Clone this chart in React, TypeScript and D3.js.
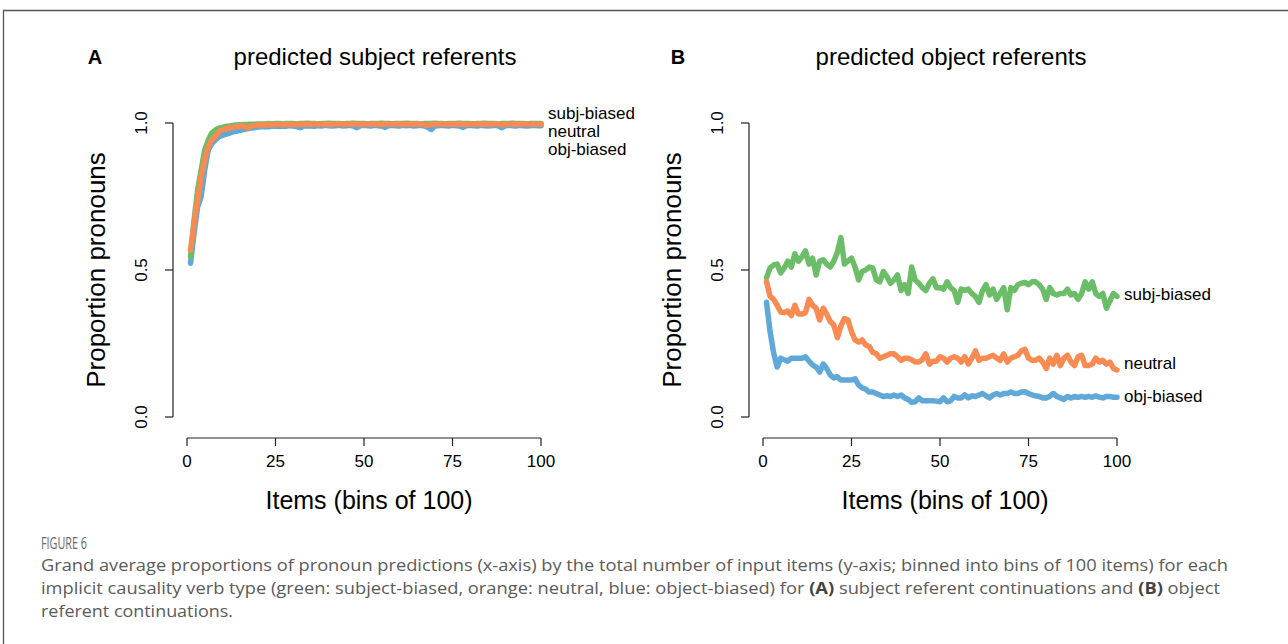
import React from "react";
import * as d3 from "d3";

const xTicks = [0, 25, 50, 75, 100];
const yTicks = [0, 0.5, 1.0];
const yTickLabels = ["0.0", "0.5", "1.0"];
const seriesNames = ["subj-biased", "neutral", "obj-biased"];
const colors = { subj: "#6cbd67", neutral: "#f98a52", obj: "#5fa8d8" };

// Panel A: predicted subject referents (bins 1..100)
const subjA = [
  0.545, 0.67, 0.772, 0.84, 0.908, 0.942, 0.966, 0.976, 0.982, 0.985,
  0.988, 0.99, 0.992, 0.993, 0.994, 0.995, 0.995, 0.996, 0.996, 0.997,
  0.997, 0.997, 0.998, 0.997, 0.998, 0.998, 0.997, 0.998, 0.998, 0.998,
  0.997, 0.998, 0.998, 0.999, 0.998, 0.998, 0.997, 0.998, 0.998, 0.999,
  0.998, 0.998, 0.998, 0.997, 0.998, 0.998, 0.999, 0.998, 0.998, 0.998,
  0.997, 0.998, 0.998, 0.998, 0.999, 0.998, 0.998, 0.997, 0.998, 0.998,
  0.998, 0.999, 0.998, 0.998, 0.998, 0.997, 0.998, 0.998, 0.998, 0.999,
  0.998, 0.998, 0.997, 0.998, 0.998, 0.998, 0.999, 0.998, 0.998, 0.998,
  0.997, 0.998, 0.998, 0.999, 0.998, 0.998, 0.998, 0.997, 0.998, 0.998,
  0.998, 0.999, 0.998, 0.998, 0.998, 0.997, 0.998, 0.998, 0.998, 0.998,
];
const neutralA = [
  0.568, 0.66, 0.738, 0.817, 0.874, 0.92, 0.942, 0.953, 0.97, 0.976,
  0.98, 0.985, 0.985, 0.987, 0.99, 0.99, 0.982, 0.99, 0.992, 0.993,
  0.994, 0.993, 0.995, 0.994, 0.996, 0.995, 0.994, 0.996, 0.995, 0.996,
  0.994, 0.996, 0.997, 0.995, 0.996, 0.997, 0.995, 0.996, 0.996, 0.997,
  0.995, 0.996, 0.997, 0.996, 0.995, 0.997, 0.996, 0.997, 0.996, 0.995,
  0.997, 0.996, 0.997, 0.996, 0.995, 0.997, 0.996, 0.997, 0.996, 0.997,
  0.996, 0.995, 0.997, 0.996, 0.997, 0.996, 0.995, 0.992, 0.996, 0.997,
  0.996, 0.997, 0.996, 0.995, 0.997, 0.996, 0.997, 0.996, 0.995, 0.997,
  0.996, 0.997, 0.996, 0.997, 0.996, 0.995, 0.997, 0.996, 0.993, 0.997,
  0.996, 0.997, 0.996, 0.995, 0.997, 0.996, 0.997, 0.996, 0.996, 0.996,
];
const objA = [
  0.523, 0.626, 0.715, 0.75, 0.84, 0.908, 0.93, 0.942, 0.953, 0.958,
  0.962, 0.965, 0.97, 0.972, 0.975, 0.978, 0.98, 0.983, 0.984, 0.986,
  0.987, 0.988, 0.987, 0.989, 0.99, 0.988, 0.99, 0.989, 0.991, 0.99,
  0.988, 0.984, 0.99, 0.991, 0.99, 0.989, 0.991, 0.99, 0.992, 0.991,
  0.99, 0.991, 0.992, 0.99, 0.991, 0.992, 0.99, 0.984, 0.991, 0.992,
  0.991, 0.99, 0.992, 0.991, 0.99, 0.985, 0.991, 0.992, 0.991, 0.99,
  0.992, 0.991, 0.992, 0.99, 0.991, 0.992, 0.99, 0.986, 0.978, 0.99,
  0.991, 0.992, 0.991, 0.99, 0.992, 0.991, 0.99, 0.985, 0.991, 0.992,
  0.991, 0.99, 0.992, 0.991, 0.99, 0.991, 0.992, 0.99, 0.984, 0.991,
  0.992, 0.991, 0.99, 0.992, 0.991, 0.99, 0.991, 0.992, 0.991, 0.991,
];

// Panel B: predicted object referents (bins 1..100)
const subjB = [
  0.473, 0.507, 0.517, 0.52, 0.49, 0.507, 0.53, 0.51, 0.555, 0.53,
  0.545, 0.565, 0.52, 0.54, 0.483, 0.53, 0.535, 0.52, 0.51, 0.53,
  0.56, 0.61, 0.52, 0.53, 0.54, 0.51, 0.466, 0.495, 0.5, 0.51,
  0.507, 0.466, 0.46, 0.495, 0.478, 0.455, 0.466, 0.483, 0.43, 0.45,
  0.42, 0.51, 0.466, 0.455, 0.44, 0.43, 0.455, 0.47, 0.44, 0.44,
  0.435, 0.46, 0.44, 0.43, 0.39, 0.435, 0.43, 0.435, 0.42, 0.41,
  0.39, 0.43, 0.45, 0.415, 0.435, 0.4, 0.42, 0.44, 0.365, 0.44,
  0.43, 0.45, 0.455, 0.458, 0.45, 0.46, 0.46, 0.45, 0.435, 0.4,
  0.44, 0.42, 0.415, 0.42, 0.42, 0.435, 0.415, 0.42, 0.4, 0.42,
  0.46, 0.435, 0.46, 0.42, 0.41, 0.42, 0.37, 0.395, 0.42, 0.41,
];
const neutralB = [
  0.46, 0.41, 0.4, 0.38, 0.357, 0.355, 0.36, 0.345, 0.38, 0.35,
  0.35, 0.355, 0.4, 0.38, 0.37, 0.33, 0.37, 0.35, 0.325, 0.313,
  0.27, 0.31, 0.335, 0.33, 0.29, 0.262, 0.255, 0.262, 0.245, 0.24,
  0.22, 0.215, 0.2, 0.205, 0.21, 0.215, 0.215, 0.205, 0.193, 0.2,
  0.2, 0.195, 0.187, 0.187, 0.195, 0.215, 0.18, 0.19, 0.19, 0.205,
  0.2, 0.187, 0.2, 0.205, 0.2, 0.187, 0.205, 0.18, 0.2, 0.225,
  0.193, 0.2, 0.2, 0.205, 0.21, 0.2, 0.193, 0.215, 0.187, 0.2,
  0.205, 0.21, 0.225, 0.23, 0.2, 0.193, 0.193, 0.2, 0.187, 0.165,
  0.2, 0.18, 0.21, 0.175, 0.2, 0.21, 0.187, 0.175, 0.205, 0.21,
  0.175, 0.175, 0.18, 0.2, 0.187, 0.193, 0.18, 0.187, 0.165, 0.16,
];
const objB = [
  0.39, 0.29, 0.218, 0.17, 0.2, 0.195, 0.19, 0.2, 0.2, 0.2,
  0.2, 0.205, 0.19, 0.177, 0.17, 0.153, 0.18, 0.165, 0.143, 0.133,
  0.137, 0.126, 0.126, 0.126, 0.126, 0.13, 0.109, 0.099, 0.095, 0.085,
  0.085, 0.08, 0.075, 0.07, 0.072, 0.07, 0.075, 0.07, 0.075, 0.065,
  0.06, 0.05, 0.052, 0.065, 0.055, 0.055, 0.055, 0.055, 0.054, 0.052,
  0.065, 0.052, 0.055, 0.07, 0.065, 0.065, 0.075, 0.065, 0.072, 0.07,
  0.075, 0.08, 0.072, 0.065, 0.075, 0.08, 0.075, 0.08, 0.08, 0.085,
  0.08, 0.08, 0.085, 0.086, 0.08, 0.075, 0.072, 0.07, 0.065, 0.065,
  0.07, 0.08, 0.07, 0.065, 0.06, 0.07, 0.065, 0.07, 0.067, 0.07,
  0.067, 0.07, 0.067, 0.072, 0.067, 0.065, 0.07, 0.07, 0.067, 0.067,
];

const FONT = "'Liberation Sans', Arial, Helvetica, sans-serif";
const CAP_FONT = "'Open Sans', 'Noto Sans', sans-serif";

type PanelProps = {
  dx: number;
  letterX: number;
  letter: string;
  title: string;
  series: { values: number[]; color: string }[];
  labels: { text: string; y: number }[];
};

function Panel({ dx, letterX, letter, title, series, labels }: PanelProps) {
  const x = d3.scaleLinear().domain([0, 100]).range([187 + dx, 541 + dx]);
  const y = d3.scaleLinear().domain([0, 1]).range([417, 123]);
  const axisX = 173 + dx;
  const axisY = 438;
  const line = d3
    .line<number>()
    .x((_, i) => x(i + 1))
    .y((v) => y(v));
  return (
    <g>
      <text x={letterX} y={64} fontFamily={FONT} fontWeight="bold" fontSize={20} textAnchor="middle">
        {letter}
      </text>
      <text x={375 + dx} y={65} fontFamily={FONT} fontSize={24} textAnchor="middle">
        {title}
      </text>
      {/* y axis */}
      <line x1={axisX} x2={axisX} y1={y(0)} y2={y(1)} stroke="#222" strokeWidth={1.2} />
      {yTicks.map((t, i) => (
        <g key={t}>
          <line x1={axisX - 8} x2={axisX} y1={y(t)} y2={y(t)} stroke="#222" strokeWidth={1.2} />
          <text
            transform={`translate(${axisX - 30},${y(t)}) rotate(-90)`}
            fontFamily={FONT}
            fontSize={17}
            textAnchor="middle"
            dominantBaseline="middle"
          >
            {yTickLabels[i]}
          </text>
        </g>
      ))}
      <text
        transform={`translate(${98 + dx},${y(0.5)}) rotate(-90)`}
        fontFamily={FONT}
        fontSize={26}
        textAnchor="middle"
        dominantBaseline="middle"
      >
        Proportion pronouns
      </text>
      {/* x axis */}
      <line x1={x(0)} x2={x(100)} y1={axisY} y2={axisY} stroke="#222" strokeWidth={1.2} />
      {xTicks.map((t) => (
        <g key={t}>
          <line x1={x(t)} x2={x(t)} y1={axisY} y2={axisY + 8} stroke="#222" strokeWidth={1.2} />
          <text x={x(t)} y={467} fontFamily={FONT} fontSize={17} textAnchor="middle">
            {t}
          </text>
        </g>
      ))}
      <text x={x(50) + 5} y={509} fontFamily={FONT} fontSize={25} textAnchor="middle">
        Items (bins of 100)
      </text>
      {series.map((s, i) => (
        <path
          key={i}
          d={line(s.values) || ""}
          fill="none"
          stroke={s.color}
          strokeWidth={5.5}
          strokeLinejoin="round"
          strokeLinecap="round"
        />
      ))}
      {labels.map((l, i) => (
        <text key={i} x={548 + dx} y={l.y} fontFamily={FONT} fontSize={17} dominantBaseline="middle">
          {l.text}
        </text>
      ))}
    </g>
  );
}

export default function App() {
  return (
    <svg
      width={1288}
      height={644}
      style={{ position: "absolute", left: 0, top: 0, display: "block", background: "#fff" }}
    >
      <rect x={0} y={0} width={1288} height={644} fill="#fff" />
      <path d="M3.5,700 L3.5,10.5 L1290,10.5" fill="none" stroke="#555" strokeWidth={1.3} />
      <Panel
        dx={0}
        letterX={95}
        letter="A"
        title="predicted subject referents"
        series={[
          { values: objA, color: colors.obj },
          { values: subjA, color: colors.subj },
          { values: neutralA, color: colors.neutral },
        ]}
        labels={[
          { text: seriesNames[0], y: 115 },
          { text: seriesNames[1], y: 133 },
          { text: seriesNames[2], y: 151 },
        ]}
      />
      <Panel
        dx={576}
        letterX={678}
        letter="B"
        title="predicted object referents"
        series={[
          { values: subjB, color: colors.subj },
          { values: neutralB, color: colors.neutral },
          { values: objB, color: colors.obj },
        ]}
        labels={[
          { text: seriesNames[0], y: 296 },
          { text: seriesNames[1], y: 365 },
          { text: seriesNames[2], y: 398 },
        ]}
      />
      <text x={41} y={549} fontFamily={CAP_FONT} fontSize={15.5} fill="#666" textLength={46} lengthAdjust="spacingAndGlyphs">
        FIGURE 6
      </text>
      <text x={41} y={571} fontFamily={CAP_FONT} fontSize={16.5} fill="#5a5a5a" textLength={1187} lengthAdjust="spacingAndGlyphs">
        Grand average proportions of pronoun predictions (x-axis) by the total number of input items (y-axis; binned into bins of 100 items) for each
      </text>
      <text x={41} y={594} fontFamily={CAP_FONT} fontSize={16.5} fill="#5a5a5a" textLength={1179} lengthAdjust="spacingAndGlyphs">
        implicit causality verb type (green: subject-biased, orange: neutral, blue: object-biased) for{" "}
        <tspan fontWeight="bold" fill="#444">(A)</tspan> subject referent continuations and{" "}
        <tspan fontWeight="bold" fill="#444">(B)</tspan> object
      </text>
      <text x={41} y={617} fontFamily={CAP_FONT} fontSize={16.5} fill="#5a5a5a" textLength={192} lengthAdjust="spacingAndGlyphs">
        referent continuations.
      </text>
    </svg>
  );
}
